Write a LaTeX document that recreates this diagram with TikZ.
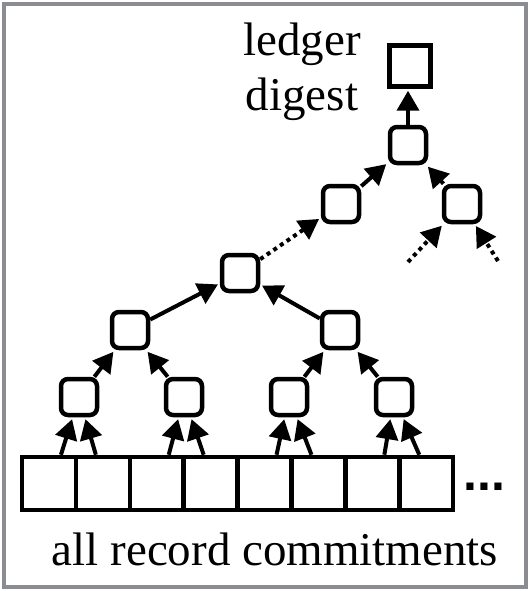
\documentclass[tikz,border=0pt]{standalone}
\usepackage{fontspec}
\setmainfont{Liberation Serif}
\newfontfamily\dotsfont{Liberation Sans}
\usetikzlibrary{arrows.meta}
\definecolor{framegray}{RGB}{138,140,145}
\begin{document}
\begin{tikzpicture}[x=1pt,y=-1pt,
  hnode/.style={draw,line width=4.5pt,rounded corners=7pt,minimum size=36pt,inner sep=0pt},
  rootbox/.style={draw,line width=4.5pt,minimum size=41pt,inner sep=0pt},
  leaf/.style={draw,line width=4.5pt,minimum width=53.9pt,minimum height=53pt,inner sep=0pt},
  arr/.style={line width=4pt,-{Triangle[length=20pt,width=22pt]},shorten >=2pt},
  dotarr/.style={arr,dash pattern=on 4pt off 4pt},
  lbl/.style={inner sep=0pt,font=\fontsize{47}{55}\selectfont}]
\useasboundingbox (0,0) rectangle (530,591);
\draw[framegray,line width=4pt] (4,4) rectangle (526,587);
% leaves
\foreach \i in {1,...,8}{
  \node[leaf] (L\i) at ({22+53.9*(\i-0.5)},483.5) {};
}
\node[font=\dotsfont\bfseries\fontsize{50}{50}\selectfont,inner sep=0pt,anchor=base west] (dots) at (463,490) {...};
% tree nodes
\node[rootbox] (R) at (410,66) {};
\node[hnode] (A) at (408,145) {};
\node[hnode] (B) at (341,204) {};
\node[hnode] (C) at (462,204) {};
\node[hnode] (D) at (240,273) {};
\node[hnode] (E) at (130,330) {};
\node[hnode] (F) at (340,330) {};
\node[hnode] (G1) at (79,397) {};
\node[hnode] (G2) at (184,397) {};
\node[hnode] (G3) at (289,397) {};
\node[hnode] (G4) at (394,397) {};
\coordinate (c1) at (408,262);
\coordinate (c2) at (498,261);
% connectors
\draw[arr] (A) -- (A|-R.south);
\draw[arr] (B) -- (A);
\draw[arr] (C) -- (A);
\draw[dotarr] (D) -- (B);
\draw[dotarr] (c1) -- (C);
\draw[dotarr] (c2) -- (C);
\draw[arr] (E) -- (D);
\draw[arr] (F) -- (D);
\draw[arr] (G1) -- (E);
\draw[arr] (G2) -- (E);
\draw[arr] (G3) -- (F);
\draw[arr] (G4) -- (F);
\draw[arr] ([xshift=12pt]L1.north) -- (G1);
\draw[arr] ([xshift=-7pt]L2.north) -- (G1);
\draw[arr] ([xshift=12pt]L3.north) -- (G2);
\draw[arr] ([xshift=-7pt]L4.north) -- (G2);
\draw[arr] ([xshift=12pt]L5.north) -- (G3);
\draw[arr] ([xshift=-7pt]L6.north) -- (G3);
\draw[arr] ([xshift=12pt]L7.north) -- (G4);
\draw[arr] ([xshift=-7pt]L8.north) -- (G4);
% labels
\node[lbl,align=center] (title) at (302,72) {ledger\\digest};
\node[lbl,anchor=base] (bottom) at (275,565) {all record commitments};
\end{tikzpicture}
\end{document}
